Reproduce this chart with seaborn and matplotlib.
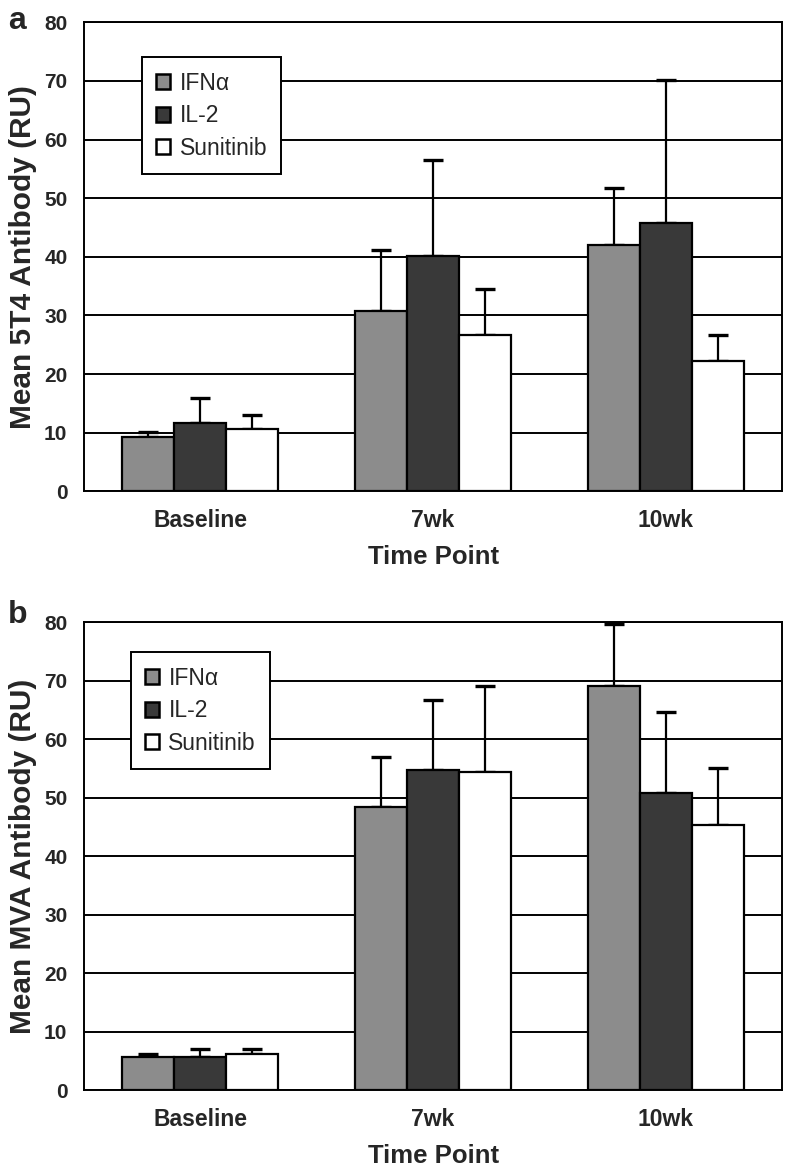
import numpy as np
import pandas as pd
import matplotlib
matplotlib.use("Agg")
import matplotlib.pyplot as plt
import seaborn as sns

# values (mean and top of the error bar)
time_points = ["Baseline", "7wk", "10wk"]
treatments = ["IFNα", "IL-2", "Sunitinib"]

t4_ifn = [9.2, 30.7, 42.0]
t4_il2 = [11.7, 40.2, 45.7]
t4_sun = [10.6, 26.7, 22.3]
t4_ifn_top = [10.1, 41.1, 51.7]
t4_il2_top = [15.9, 56.5, 70.2]
t4_sun_top = [13.0, 34.5, 26.7]

mva_ifn = [5.8, 48.4, 69.1]
mva_il2 = [5.8, 54.7, 50.9]
mva_sun = [6.2, 54.4, 45.3]
mva_ifn_top = [6.2, 57.0, 79.8]
mva_il2_top = [7.0, 66.8, 64.7]
mva_sun_top = [7.0, 69.1, 55.2]

colors = {"IFNα": "#8c8c8c", "IL-2": "#393939", "Sunitinib": "#ffffff"}

sns.set_style("white")
plt.rcParams["font.family"] = ["Liberation Sans", "DejaVu Sans"]


def make_df(a, b, c, ta, tb, tc):
    rows = []
    for vals, tops, name in [(a, ta, "IFNα"), (b, tb, "IL-2"), (c, tc, "Sunitinib")]:
        for tp, v, t in zip(time_points, vals, tops):
            rows.append({"time": tp, "treatment": name, "mean": v, "top": t})
    return pd.DataFrame(rows)


def draw_panel(ax, df, ylabel, letter, letter_y, leg_anchor):
    sns.barplot(data=df, x="time", y="mean", hue="treatment", order=time_points,
                hue_order=treatments, palette=colors, errorbar=None, width=0.67,
                edgecolor="black", linewidth=1.6, saturation=1, ax=ax, zorder=3)
    # upper-only error bars, placed on the drawn bars
    for cont, name in zip(ax.containers, treatments):
        sub = df[df["treatment"] == name].set_index("time").loc[time_points]
        xs = [p.get_x() + p.get_width() / 2 for p in cont.patches]
        up = (sub["top"] - sub["mean"]).values
        ax.errorbar(xs, sub["mean"].values, yerr=[np.zeros(len(up)), up], fmt="none",
                    ecolor="black", elinewidth=1.6, capsize=7, capthick=2.4, zorder=2)
    ax.set_ylim(0, 80)
    ax.set_xlim(-0.5, 2.5)
    ax.set_yticks(np.arange(0, 81, 10))
    ax.yaxis.grid(True, color="black", linewidth=1.4, zorder=0)
    ax.set_axisbelow(True)
    for s in ax.spines.values():
        s.set_color("black")
        s.set_linewidth(1.4)
    ax.tick_params(axis="y", length=6, width=1.4, color="black", direction="out", pad=6)
    ax.tick_params(axis="x", which="major", length=0, pad=13)
    ax.set_xticks([-0.5, 0.5, 1.5, 2.5], minor=True)
    ax.tick_params(axis="x", which="minor", length=7, width=1.4, color="black", direction="out")
    for lab in ax.get_yticklabels():
        lab.set_fontweight("bold")
        lab.set_fontsize(15)
    for lab in ax.get_xticklabels():
        lab.set_fontweight("bold")
        lab.set_fontsize(16.5)
    ax.set_xlabel("Time Point", fontsize=18.5, fontweight="bold", labelpad=9)
    ax.set_ylabel(ylabel, fontsize=21.5, fontweight="bold", labelpad=5)
    ax.text(-0.109, letter_y, letter, transform=ax.transAxes, fontsize=23,
            fontweight="bold", ha="left", va="baseline")
    leg = ax.legend(loc="upper left", bbox_to_anchor=leg_anchor, borderaxespad=0,
                    fancybox=False, framealpha=1, edgecolor="black",
                    prop={"size": 16.5}, handlelength=0.62, handleheight=0.62,
                    handletextpad=0.4, labelspacing=0.42, borderpad=0.62)
    leg.get_frame().set_linewidth(1.4)
    leg.set_zorder(5)
    for h in leg.legend_handles:
        h.set_edgecolor("black")
        h.set_linewidth(1.8)


fig = plt.figure(figsize=(7.86, 11.70), dpi=100)
ax_a = fig.add_axes([0.107, 0.580, 0.888, 0.401])
ax_b = fig.add_axes([0.107, 0.068, 0.888, 0.400])

df_a = make_df(t4_ifn, t4_il2, t4_sun, t4_ifn_top, t4_il2_top, t4_sun_top)
df_b = make_df(mva_ifn, mva_il2, mva_sun, mva_ifn_top, mva_il2_top, mva_sun_top)

draw_panel(ax_a, df_a, "Mean 5T4 Antibody (RU)", "a", 0.985, (0.083, 0.925))
draw_panel(ax_b, df_b, "Mean MVA Antibody (RU)", "b", 0.998, (0.067, 0.936))

fig.savefig("out.png", dpi=100)
